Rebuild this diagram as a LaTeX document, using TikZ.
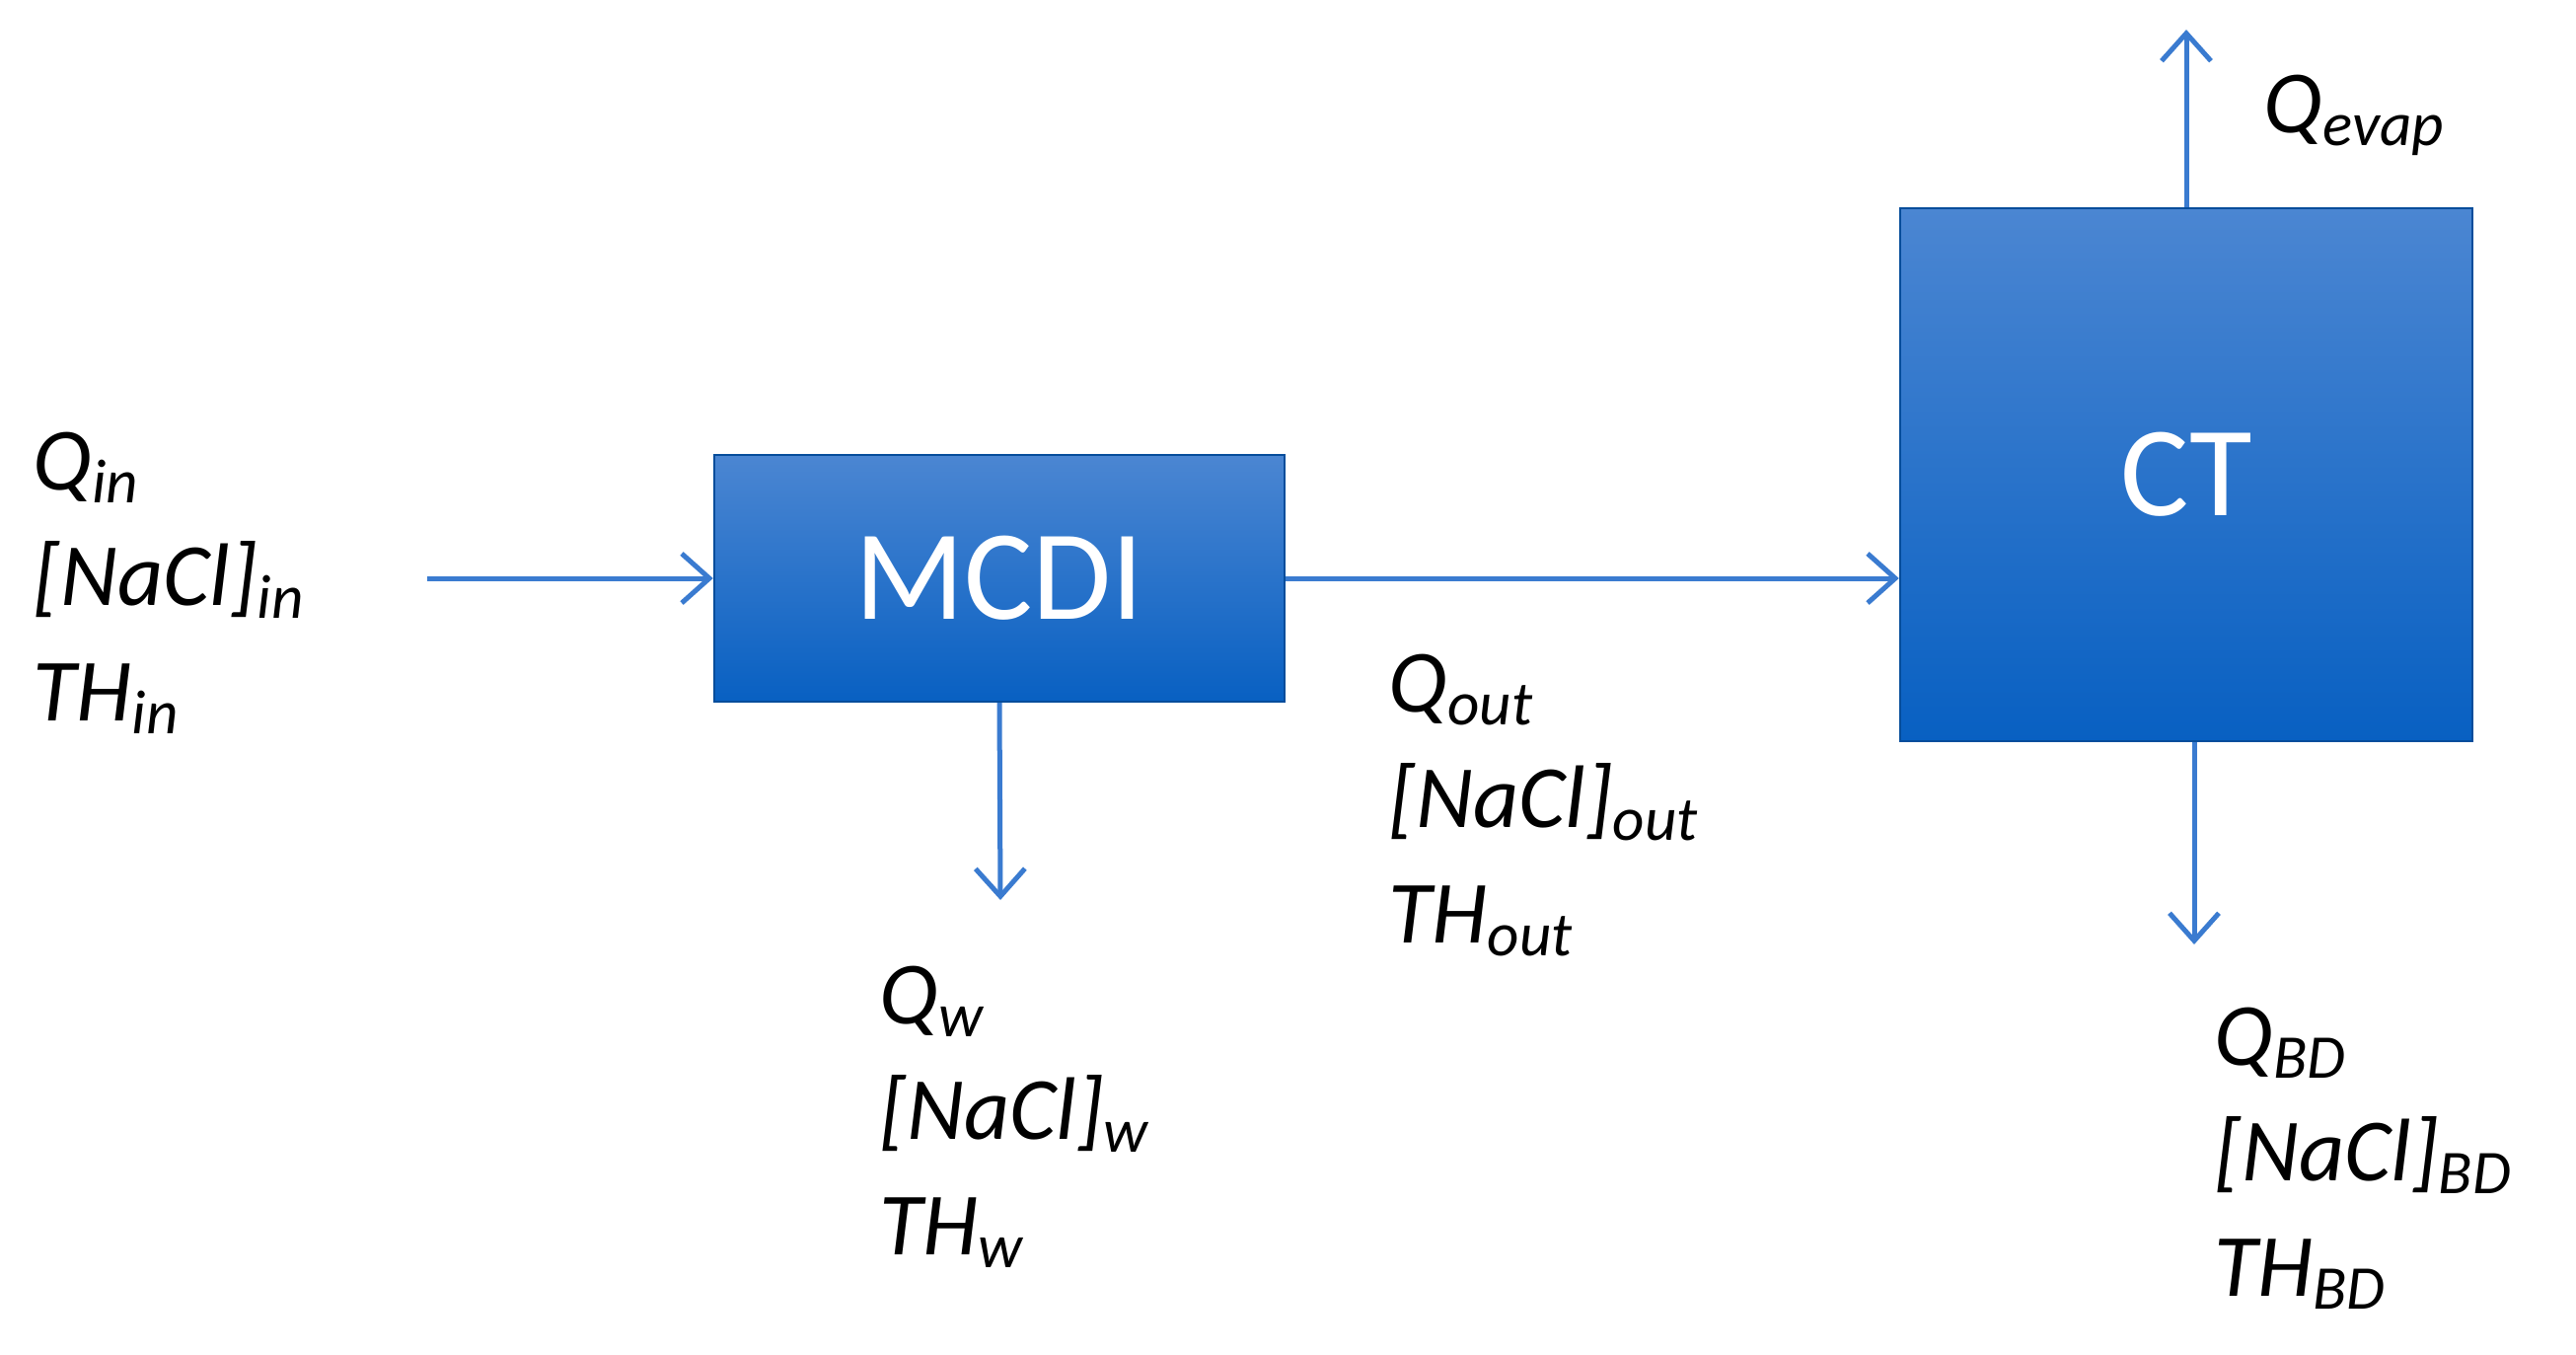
\documentclass[tikz,border=0pt]{standalone}
\usepackage{fontspec}
\setmainfont{Carlito}
\usetikzlibrary{arrows.meta}
\definecolor{arr}{HTML}{3A7BD0}
\definecolor{btop}{HTML}{4B86D2}
\definecolor{bbot}{HTML}{0860C2}
\begin{document}
\begin{tikzpicture}[x=0.01cm,y=-0.01cm,
  box/.style={draw=bbot!80!black,line width=0.6pt,top color=btop,bottom color=bbot,text=white,font=\fontsize{37}{40}\selectfont,inner sep=0pt},
  flow/.style={draw=arr,line width=0.05cm,-{Straight Barb[length=0.28cm,width=0.5cm,line width=0.05cm]}},
  lab/.style={anchor=west,align=left,inner sep=0pt,font=\fontsize{25.6}{33.3}\selectfont\itshape}]
\useasboundingbox (0,0) rectangle (2611,1373);
\node[box,minimum width=5.78cm,minimum height=2.5cm] (mcdi) at (1013,586) {MCDI};
\node[box,minimum width=5.8cm,minimum height=5.4cm] (ct) at (2216,481) {CT};
\coordinate (in) at (433,586);
\coordinate (w) at (1014,912);
\coordinate (bd) at (2224,957);
\coordinate (ev) at (2216,30);
\draw[flow] (in) -- (mcdi.west);
\draw[flow] (mcdi.east) -- (mcdi.east -| ct.west);
\draw[flow] (mcdi.south) -- (w);
\draw[flow] (bd |- ct.south) -- (bd);
\draw[flow] (ct.north) -- (ev);
\node[lab] (lin) at (33,591) {Q\textsubscript{in}\\{[NaCl]}\textsubscript{in}\\TH\textsubscript{in}};
\node[lab] (lout) at (1407,816) {Q\textsubscript{out}\\{[NaCl]}\textsubscript{out}\\TH\textsubscript{out}};
\node[lab] (lw) at (891,1132) {Q\textsubscript{w}\\{[NaCl]}\textsubscript{w}\\TH\textsubscript{w}};
\node[lab] (lbd) at (2244,1174) {Q\textsubscript{BD}\\{[NaCl]}\textsubscript{BD}\\TH\textsubscript{BD}};
\node[lab] (lev) at (2294,117) {Q\textsubscript{evap}};
\end{tikzpicture}
\end{document}
